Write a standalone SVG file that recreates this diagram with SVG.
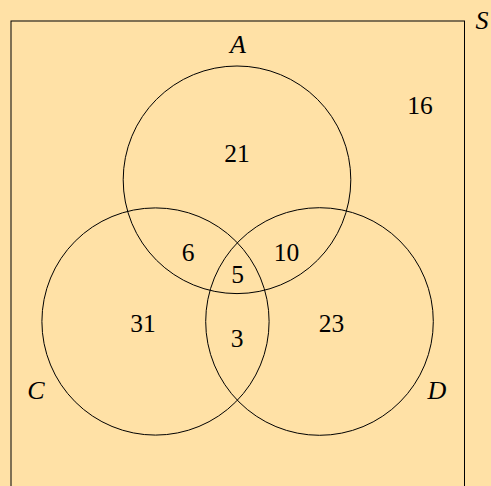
<svg xmlns="http://www.w3.org/2000/svg" width="491" height="486" viewBox="0 0 491 486">
<style>
.o{fill:none;stroke:#000;stroke-width:1}
.n{font-family:"Liberation Serif","DejaVu Serif",serif;font-size:25.5px;fill:#000;text-anchor:middle}
.l{font-family:"Liberation Serif","DejaVu Serif",serif;font-style:italic;font-size:26px;fill:#000;text-anchor:middle}
</style>
<rect x="0" y="0" width="491" height="486" fill="#FFE1A6"/>
<g id="S"><rect class="o" x="11" y="21" width="453.5" height="480"/><text class="l" x="482" y="29">S</text></g>
<g id="A"><circle class="o" cx="237" cy="179.8" r="113.8"/><text class="l" x="238" y="53">A</text></g>
<g id="C"><circle class="o" cx="155.5" cy="321.5" r="113.6"/><text class="l" x="36" y="399">C</text></g>
<g id="D"><circle class="o" cx="319.5" cy="321.5" r="113.8"/><text class="l" x="437" y="399">D</text></g>
<g id="labels">
<text class="n" x="237" y="162">21</text>
<text class="n" x="420" y="114">16</text>
<text class="n" x="188" y="261">6</text>
<text class="n" x="286.5" y="261">10</text>
<text class="n" x="237.5" y="283">5</text>
<text class="n" x="143" y="332">31</text>
<text class="n" x="331.5" y="332">23</text>
<text class="n" x="237" y="347">3</text>
</g>
<g id="connectors"></g>
</svg>
